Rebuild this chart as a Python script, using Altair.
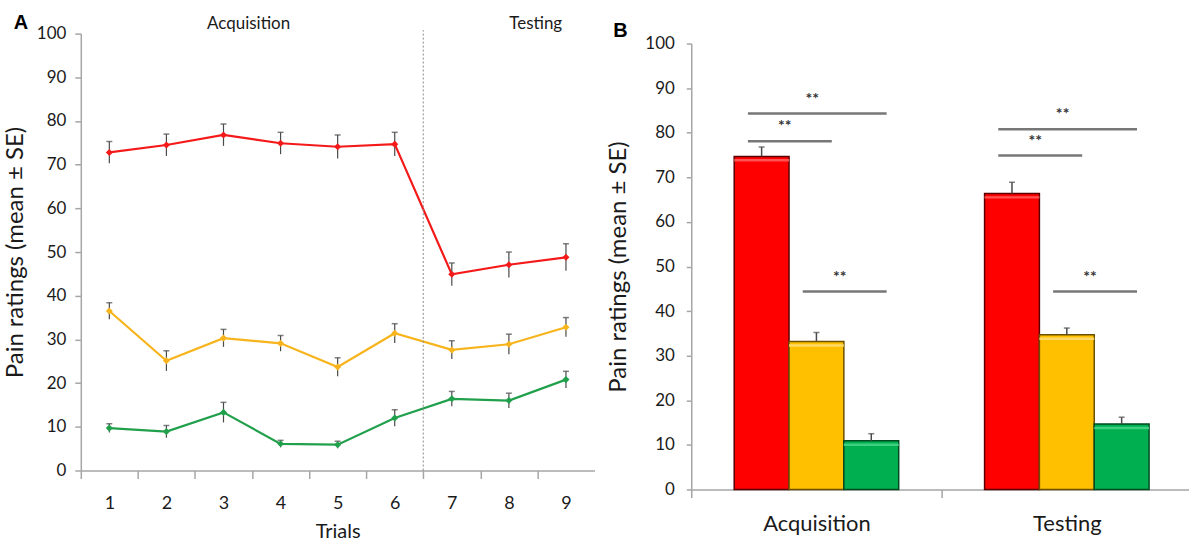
import altair as alt
import pandas as pd

FONT = "Lato"

# ---------------- Panel A data ----------------
trials = [1, 2, 3, 4, 5, 6, 7, 8, 9]
series = ["High", "Medium", "Low"]
series_colors = ["#f41a1a", "#f7b41c", "#21a04c"]
a_mean = {
    "High":   [72.8, 74.5, 76.8, 74.9, 74.1, 74.7, 44.9, 47.1, 48.8],
    "Medium": [36.5, 25.1, 30.3, 29.1, 23.7, 31.4, 27.6, 28.9, 32.8],
    "Low":    [9.7, 8.9, 13.3, 6.1, 5.9, 12.0, 16.4, 16.0, 20.8],
}
a_se = {
    "High":   [2.5, 2.5, 2.5, 2.5, 2.7, 2.7, 2.6, 2.9, 3.1],
    "Medium": [1.9, 2.3, 2.0, 1.8, 2.1, 2.2, 2.1, 2.3, 2.2],
    "Low":    [1.0, 1.4, 2.3, 0.8, 0.8, 1.9, 1.7, 1.7, 1.9],
}
phase_labels = ["Acquisition", "Testing"]
phase_label_x = [3.44, 8.47]
phase_boundary = 6.5

# ---------------- Panel B data ----------------
groups = ["Acquisition", "Testing"]
b_mean = {
    "High":   [74.7, 66.4],
    "Medium": [33.2, 34.7],
    "Low":    [10.9, 14.7],
}
b_se = {
    "High":   [2.1, 2.5],
    "Medium": [2.0, 1.5],
    "Low":    [1.6, 1.5],
}
bar_fill = ["#ff0000", "#ffc000", "#00b050"]
bar_stroke = ["#5a0000", "#6b5000", "#004a20"]
bar_highlight = ["#ff5c5c", "#ffdc70", "#45d486"]
# significance comparisons: group, from-condition, to-condition, bracket height
sig_group = ["Acquisition", "Acquisition", "Acquisition", "Testing", "Testing", "Testing"]
sig_from = ["High", "High", "Medium", "High", "High", "Medium"]
sig_to = ["Medium", "Low", "Low", "Medium", "Low", "Low"]
sig_y = [78.1, 84.3, 44.4, 74.9, 80.8, 44.4]

# panel letters (annotation positions in each panel's data space)
panel_a_letter = {"t": "A", "x": -0.55, "y": 102.5}
panel_b_letter = {"t": "B", "x": -0.283, "y": 102.9}

# ---------------- Build tables ----------------
rows = []
for s in series:
    for i, t in enumerate(trials):
        m, e = a_mean[s][i], a_se[s][i]
        rows.append({"trial": t, "series": s, "mean": m, "lo": m - e, "hi": m + e})
dfa = pd.DataFrame(rows)

color_scale = alt.Scale(domain=series, range=series_colors)
GRAY = "#a6a6a6"
TXT = "#1a1a1a"

WA = 515
half_step = WA / len(trials) / 2
sx_a = alt.Scale(domain=[0.5, 9.5], nice=False, zero=False)
axis_xa = alt.Axis(
    values=trials + [10],
    tickOffset=-half_step, labelOffset=half_step,
    labelOpacity={"condition": {"test": "datum.value > 9", "value": 0}, "value": 1},
    labelOverlap=False, labelFlush=False, format="d",
    title="Trials", grid=False, tickSize=8, labelPadding=16,
    titlePadding=9, labelFontSize=18, titleFontSize=20,
    titleFontWeight="normal", domainColor=GRAY, tickColor=GRAY,
    domainWidth=1.5, tickWidth=1.5, labelColor=TXT, titleColor=TXT,
    labelFont=FONT, titleFont=FONT)

def xA(field):
    return alt.X(field, scale=sx_a, axis=axis_xa)

ya = alt.Y("mean:Q",
           scale=alt.Scale(domain=[0, 100], nice=False),
           axis=alt.Axis(values=list(range(0, 101, 10)), title="Pain ratings (mean ± SE)",
                         grid=False, tickSize=6, labelPadding=9, titlePadding=9,
                         labelFontSize=17, titleFontSize=24, titleFontWeight="normal",
                         domainColor=GRAY, tickColor=GRAY, domainWidth=1.5,
                         tickWidth=1.5, labelColor=TXT, titleColor=TXT,
                         labelFont=FONT, titleFont=FONT))

base_a = alt.Chart(dfa)
lines_a = base_a.mark_line(strokeWidth=2.2).encode(
    x=xA("trial:Q"), y=ya, color=alt.Color("series:N", scale=color_scale, legend=None))
err_a = base_a.mark_rule(color="#4a4a4a", strokeWidth=1.2).encode(
    x=xA("trial:Q"), y="lo:Q", y2="hi:Q")
cap_a = base_a.mark_tick(color="#4a4a4a", orient="horizontal", size=6, thickness=1.5).encode(
    x=xA("trial:Q"), y="hi:Q")
pts_a = base_a.mark_point(shape="diamond", filled=True, size=50, opacity=1).encode(
    x=xA("trial:Q"), y="mean:Q", color=alt.Color("series:N", scale=color_scale, legend=None))

df_div = pd.DataFrame({"x": [phase_boundary], "y0": [0], "y1": [100.8]})
div_a = alt.Chart(df_div).mark_rule(color="#8a8a8a", strokeDash=[2, 2], strokeWidth=1).encode(
    x=xA("x:Q"), y="y0:Q", y2="y1:Q")

df_phase = pd.DataFrame({"x": phase_label_x, "y": [102.1, 102.1], "t": phase_labels})
txt_a = alt.Chart(df_phase).mark_text(font=FONT, fontSize=17, color=TXT).encode(
    x=xA("x:Q"), y="y:Q", text="t:N")

lab_a = alt.Chart(pd.DataFrame([panel_a_letter])).mark_text(
    font="Liberation Sans", fontSize=20, fontWeight="bold", color="black").encode(
    x=xA("x:Q"), y="y:Q", text="t:N")

chart_a = alt.layer(lines_a, div_a, err_a, cap_a, pts_a, txt_a, lab_a).properties(
    width=WA, height=438)

# ---------------- Panel B ----------------
bw = 0.219
def center(g, c):
    return groups.index(g) + 0.5 + (series.index(c) - 1) * bw

rows = []
for c in series:
    for gi, g in enumerate(groups):
        m, e = b_mean[c][gi], b_se[c][gi]
        cx = center(g, c)
        rows.append({"group": g, "cond": c, "x0": cx - bw / 2, "x1": cx + bw / 2,
                     "cx": cx, "mean": m, "hi": m + e, "zero": 0})
dfb = pd.DataFrame(rows)

rows = []
for g, f, t, y in zip(sig_group, sig_from, sig_to, sig_y):
    xs = center(g, f) - 0.25 * bw
    xe = center(g, t) + 0.28 * bw
    rows.append({"xs": xs, "xe": xe, "y": y, "xm": (xs + xe) / 2 - 0.02, "ty": y + 3.3,
                 "t": "**"})
dfs = pd.DataFrame(rows)

xb = alt.X("x0:Q",
           scale=alt.Scale(domain=[0, 1.988], nice=False, zero=False),
           axis=alt.Axis(values=[0, 0.5, 1, 1.5],
                         labelExpr="datum.value == 0.5 ? 'Acquisition' : (datum.value == 1.5 ? 'Testing' : '')",
                         tickOpacity={"condition": {"test": "datum.value % 1 == 0", "value": 1}, "value": 0},
                         labelOverlap=False, labelFlush=False,
                         title=None, grid=False, tickSize=8, labelPadding=16,
                         labelFontSize=22, domainColor=GRAY, tickColor=GRAY,
                         domainWidth=1.5, tickWidth=1.5, labelColor=TXT, labelFont=FONT))
yb = alt.Y("mean:Q",
           scale=alt.Scale(domain=[0, 100], nice=False, range=[457, 10]),
           axis=alt.Axis(values=list(range(0, 101, 10)), title="Pain ratings (mean ± SE)",
                         grid=False, tickSize=5, labelPadding=12, titlePadding=14,
                         labelFontSize=17, titleFontSize=24, titleFontWeight="normal",
                         domainColor=GRAY, tickColor=GRAY, domainWidth=1.5,
                         tickWidth=1.5, labelColor=TXT, titleColor=TXT,
                         labelFont=FONT, titleFont=FONT))

base_b = alt.Chart(dfb)
bars_b = base_b.mark_rect(strokeWidth=1.5).encode(
    x=xb, x2="x1:Q", y=yb, y2="zero:Q",
    color=alt.Color("cond:N", scale=alt.Scale(domain=series, range=bar_fill), legend=None),
    stroke=alt.Stroke("cond:N", scale=alt.Scale(domain=series, range=bar_stroke), legend=None))
hl_b = base_b.mark_rule(strokeWidth=2.5, yOffset=4, opacity=0.9).encode(
    x="x0:Q", x2="x1:Q", y="mean:Q",
    color=alt.Color("cond:N", scale=alt.Scale(domain=series, range=bar_highlight), legend=None))
err_b = base_b.mark_rule(color="#4a4a4a", strokeWidth=1.5).encode(
    x="cx:Q", y="mean:Q", y2="hi:Q")
cap_b = base_b.mark_tick(color="#4a4a4a", orient="horizontal", size=6, thickness=1.5).encode(
    x="cx:Q", y="hi:Q")
sig_b = alt.Chart(dfs).mark_rule(color="#777777", strokeWidth=2.5).encode(
    x="xs:Q", x2="xe:Q", y="y:Q")
sigt_b = alt.Chart(dfs).mark_text(font=FONT, fontSize=16, fontWeight="bold", color="#333333").encode(
    x="xm:Q", y="ty:Q", text="t:N")
lab_b = alt.Chart(pd.DataFrame([panel_b_letter])).mark_text(
    font="Liberation Sans", fontSize=20, fontWeight="bold", color="black").encode(
    x="x:Q", y="y:Q", text="t:N")

chart_b = alt.layer(bars_b, hl_b, err_b, cap_b, sig_b, sigt_b, lab_b).resolve_scale(
    color="independent").properties(width=499, height=457)

chart = alt.hconcat(chart_a, chart_b, spacing=12).properties(
    padding={"left": 3, "top": 12, "right": 0, "bottom": 0},
    background="white").configure_view(stroke=None)

chart.save("out.html", embed_options={"renderer": "svg", "actions": False})
